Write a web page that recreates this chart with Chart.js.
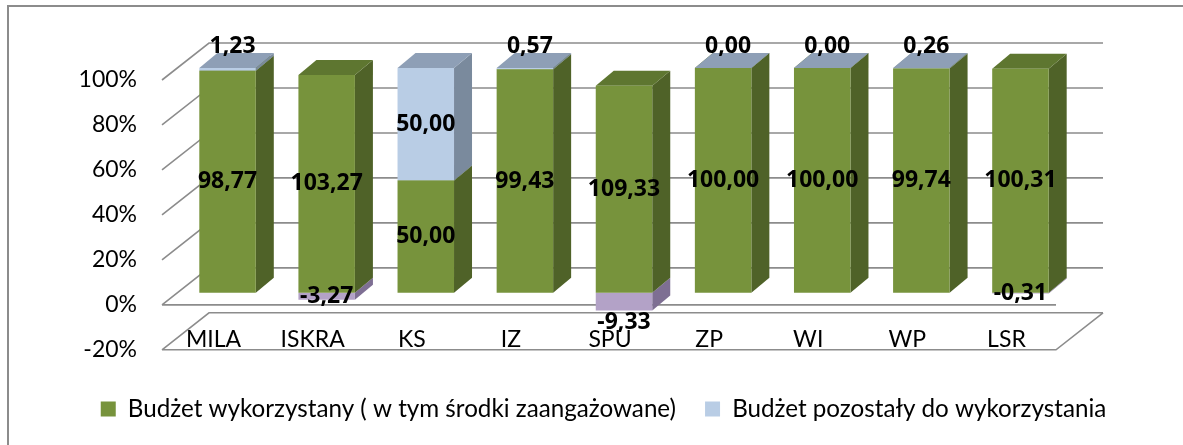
<!DOCTYPE html>
<html>
<head>
<meta charset="utf-8">
<script src="https://cdn.jsdelivr.net/npm/chart.js@4.4.1/dist/chart.umd.min.js"></script>
<style>
  html, body { margin: 0; padding: 0; background: #fff; }
  #wrap { position: relative; width: 1183px; height: 445px; }
  #frame { position: absolute; left: 7px; top: 5px; right: -10px; bottom: -10px;
           border-top: 2px solid #8c8c8c; border-left: 2px solid #8c8c8c; }
  canvas { position: absolute; left: 0; top: 0; }
</style>
</head>
<body>
<div id="wrap">
  <div id="frame"></div>
  <canvas id="budgetChart"></canvas>
</div>
<script>
// Categories (units) and raw values
var categories = ["MILA", "ISKRA", "KS", "IZ", "SPU", "ZP", "WI", "WP", "LSR"];
var usedBudget = [98.77, 103.27, 50.00, 99.43, 109.33, 100.00, 100.00, 99.74, 100.31];
var remainingBudget = [1.23, -3.27, 50.00, 0.57, -9.33, 0.00, 0.00, 0.26, -0.31];
var seriesNames = ["Budżet wykorzystany ( w tym środki zaangażowane)", "Budżet pozostały do wykorzystania"];
var yMin = -20, yMax = 100, yStep = 20;

// Colors: front / side / top faces
var green = { front: "#77933C", side: "#4F6228", top: "#5E7630" };
var blue = { front: "#B9CDE5", side: "#7A8A9D", top: "#8E9FB6" };
var purple = { front: "#B3A2C7", side: "#7E6F93", top: "#8E7FA5" };

var FONT = "Lato, 'Noto Sans', sans-serif";
var LABEL_FONT = "bold 23px 'Noto Sans', sans-serif";

// 100% stacked: share of each part in the sum of absolute values
function share(a, b, which) {
    var total = Math.abs(a) + Math.abs(b);
    return (which === 0 ? a : b) / total * 100;
}
var usedShare = usedBudget.map((v, i) => share(v, remainingBudget[i], 0));
var remainingShare = remainingBudget.map((v, i) => share(usedBudget[i], v, 1));

var FRONT = { dx: 14, dy: -12 };     // bars stand a bit behind the axis front plane
var DEPTH = { dx: 18, dy: -15 };     // bar depth
var WALL = { dx: 47, dy: -37 };      // wall / floor depth

function faceColors(dsIndex, value) {
    if (dsIndex === 0) return green;
    return value < 0 ? purple : blue;
}

function poly(ctx, pts, color) {
    ctx.beginPath();
    ctx.moveTo(pts[0][0], pts[0][1]);
    for (var k = 1; k < pts.length; k++) ctx.lineTo(pts[k][0], pts[k][1]);
    ctx.closePath();
    ctx.fillStyle = color;
    ctx.fill();
}

// back wall, side wall, floor and the category names on the floor
var wallsPlugin = {
    id: "walls",
    beforeDraw(chart) {
        var ctx = chart.ctx, y = chart.scales.y, x = chart.scales.x, area = chart.chartArea;
        var left = area.left - 2, right = area.right;
        ctx.save();
        ctx.strokeStyle = "#8c8c8c";
        ctx.lineWidth = 1.6;
        ctx.beginPath();
        y.ticks.forEach(t => {
            var py = y.getPixelForValue(t.value);
            ctx.moveTo(left, py);
            ctx.lineTo(left + WALL.dx, py + WALL.dy);
            ctx.lineTo(right + WALL.dx, py + WALL.dy);
        });
        var p0 = y.getPixelForValue(0), pm = y.getPixelForValue(yMin);
        ctx.moveTo(left, p0); ctx.lineTo(right, p0);
        ctx.moveTo(left, pm); ctx.lineTo(right, pm);
        ctx.lineTo(right + WALL.dx, pm + WALL.dy);
        ctx.stroke();

        ctx.font = "23px " + FONT;
        ctx.fillStyle = "#000";
        ctx.textAlign = "center";
        ctx.textBaseline = "middle";
        var ly = (p0 + pm) / 2 + 12;
        categories.forEach((c, i) => {
            ctx.fillText(c, x.getPixelForValue(i), ly);
        });
        ctx.restore();
    }
};

// side and top faces of the columns, then value labels
var boxPlugin = {
    id: "boxes",
    beforeDatasetsDraw(chart) {
        var ctx = chart.ctx;
        ctx.save();
        ctx.translate(FRONT.dx, FRONT.dy);
        var values = [usedBudget, remainingBudget];
        categories.forEach((c, i) => {
            var parts = [0, 1].map(d => ({
                d: d,
                v: values[d][i],
                el: chart.getDatasetMeta(d).data[i]
            }));
            // negatives first, then stack order
            parts.sort((a, b) => (a.v < 0 ? -1 : 0) - (b.v < 0 ? -1 : 0) || a.d - b.d);
            parts.forEach(p => {
                var pr = p.el.getProps(["x", "y", "base", "width"], true);
                var l = pr.x - pr.width / 2, r = pr.x + pr.width / 2;
                var top = Math.min(pr.y, pr.base), bot = Math.max(pr.y, pr.base);
                var col = faceColors(p.d, p.v);
                poly(ctx, [[r, top], [r + DEPTH.dx, top + DEPTH.dy], [r + DEPTH.dx, bot + DEPTH.dy], [r, bot]], col.side);
                if (p.v >= 0) {
                    poly(ctx, [[l, top], [l + DEPTH.dx, top + DEPTH.dy], [r + DEPTH.dx, top + DEPTH.dy], [r, top]], col.top);
                }
            });
        });
    },
    afterDatasetsDraw(chart) {
        var ctx = chart.ctx;
        ctx.restore();
        ctx.save();
        ctx.font = LABEL_FONT;
        ctx.fillStyle = "#000";
        ctx.textAlign = "center";
        ctx.textBaseline = "middle";
        var values = [usedBudget, remainingBudget];
        [0, 1].forEach(d => {
            chart.getDatasetMeta(d).data.forEach((el, i) => {
                var v = values[d][i];
                var pr = el.getProps(["x", "y", "base"], true);
                var h = Math.abs(pr.base - pr.y);
                var x = pr.x + FRONT.dx, yy = (pr.y + pr.base) / 2 + FRONT.dy;
                if (h < 22 && v >= 0) {
                    x += 5;
                    yy = Math.min(pr.y, pr.base) + FRONT.dy - 22;
                } else if (h < 22 && v < 0 && h > 10) {
                    yy = Math.max(pr.y, pr.base) + FRONT.dy + 12;
                }
                ctx.fillText(v.toFixed(2).replace(".", ","), x, yy);
            });
        });
        ctx.restore();
    }
};

var ctx = document.getElementById("budgetChart");
new Chart(ctx, {
    type: "bar",
    data: {
        labels: categories,
        datasets: [
            {
                label: seriesNames[0],
                data: usedShare,
                backgroundColor: green.front,
                borderWidth: 0,
                clip: false
            },
            {
                label: seriesNames[1],
                data: remainingShare,
                backgroundColor: c => remainingBudget[c.dataIndex] < 0 ? purple.front : blue.front,
                borderWidth: 0,
                clip: false
            }
        ]
    },
    options: {
        responsive: true,
        maintainAspectRatio: false,
        animation: false,
        events: [],
        layout: { padding: { left: 30, right: 6, top: 80, bottom: 14 } },
        datasets: { bar: { categoryPercentage: 1, barPercentage: 0.57 } },
        scales: {
            x: {
                stacked: true,
                grid: { display: false, drawTicks: false },
                border: { display: false },
                ticks: { display: false },
                afterFit: s => { s.height = 18; }
            },
            y: {
                stacked: true,
                min: yMin,
                max: yMax,
                grid: { display: false, drawTicks: false },
                border: { display: false },
                ticks: {
                    stepSize: yStep,
                    padding: 27,
                    color: "#000",
                    font: { family: FONT, size: 23 },
                    callback: v => v + "%"
                },
                afterFit: s => { s.width = 134; }
            },
            y2: {
                position: "right",
                grid: { display: false, drawTicks: false },
                border: { display: false },
                ticks: { display: false },
                afterFit: s => { s.width = 121; }
            }
        },
        plugins: {
            legend: {
                position: "bottom",
                labels: {
                    boxWidth: 15,
                    boxHeight: 15,
                    padding: 29,
                    color: "#000",
                    font: { family: FONT, size: 24.2 },
                    generateLabels: () => seriesNames.map((t, i) => ({
                        text: t,
                        fillStyle: i === 0 ? green.front : blue.front,
                        strokeStyle: i === 0 ? green.front : blue.front,
                        lineWidth: 0,
                        hidden: false,
                        datasetIndex: i
                    }))
                }
            },
            tooltip: { enabled: false }
        }
    },
    plugins: [wallsPlugin, boxPlugin]
});
</script>
</body>
</html>
